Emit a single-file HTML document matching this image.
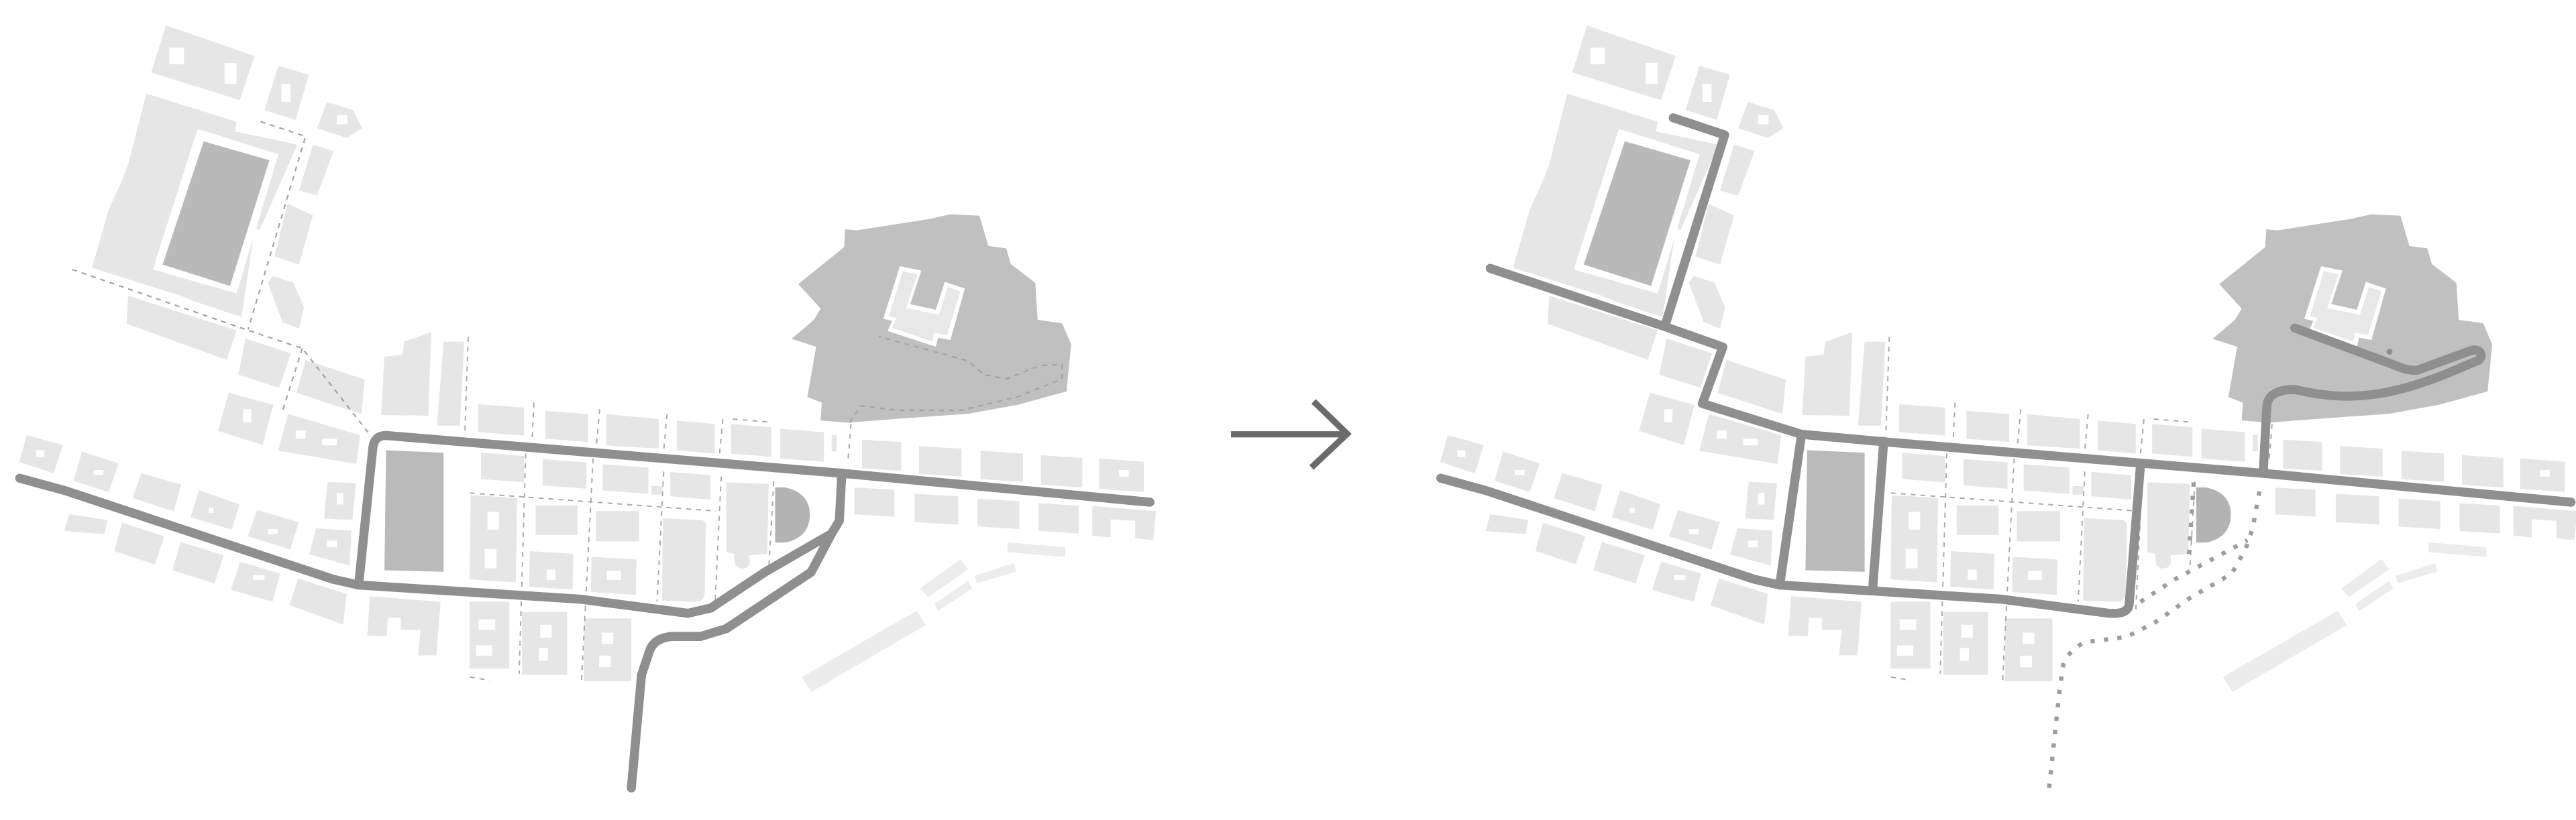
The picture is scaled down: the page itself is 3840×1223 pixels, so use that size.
<!DOCTYPE html>
<html><head><meta charset="utf-8"><style>
html,body{margin:0;padding:0;background:#fff;}
svg{display:block;}
</style></head><body>
<svg width="3840" height="1223" viewBox="0 0 1568 499" preserveAspectRatio="none" xmlns="http://www.w3.org/2000/svg">
<defs>
<g id="base">
  <!-- hill -->
  <polygon fill="#c0c0c0" points="514.5,139.5 521.3,140.2 564.8,133.4 578.5,130.4 596.2,131.3 601.6,149.7 612.5,151.1 615.2,160.6 630.2,172.2 631.6,194.6 646.5,196.7 652,209.6 649.2,238.2 619.3,246.4 589.3,251.8 551.2,254.5 515.9,257.2 499.5,255.9 500.2,245 491.4,241.6 496.8,211 481.8,206.2 495.4,194.6 499.5,187.8 485.9,172.9 513.8,150.4"/>
  <polygon fill="#fff" points="547.8,162 560.8,164.7 554,185.1 569.6,188.5 575.1,171.5 587.3,175.6 578.5,206.9 571,205.5 569.6,211 540.3,201.4 543.1,195.3 537.6,194"/>
  <polygon fill="#e8e8e8" points="549.5,165 558.5,167 551.5,187.5 571.5,191.5 577,174.5 584.5,177.2 576.5,204 568.5,202.5 567.5,207.8 543,199.5 545.5,193.5 541,192.5"/>
  <g fill="#e6e6e6">
  <!-- NW cluster -->
  <polygon points="101,15.5 155,34 146,61 92,44"/>
  <polygon points="169.5,40 188,45.5 180,73 161,67"/>
  <polygon points="199,62 215,67 220.5,78 211,84 193,78"/>
  <polygon points="89,57 144,74 143,80 181,88 158,140 155,139 147,193 117,183 110,180 56,163 66,128 75,108 78,100"/>
  <polygon points="78,180 144,201 138,219 77,197"/>
  <polygon points="190.5,88 203,92 193,119 182,116"/>
  <polygon points="175,124 190.5,131 182,161 167,156"/>
  <polygon points="166,168 178.6,172 185,187 182,200 172,196 163,172"/>
  <polygon points="149.5,206 177,215 170,236 145,228"/>
  <polygon points="186,219 222,231 220,252 180.5,239"/>
  <polygon points="139.2,239 166.4,246.4 159.9,270.8 132.7,262.2"/>
  <polygon points="175.3,251.9 219.2,264.8 216.9,282.3 169.3,274.3"/>
  <polygon points="234,217 245,216 246,208 262.5,202 260.7,253 232,252.5"/>
  <polygon points="270,208 282.5,208 280,259 266,259"/>
  <!-- far left -->
  <polygon points="16.3,264.8 38.2,270.8 32.7,288 11.7,281.1"/>
  <polygon points="49.9,274.8 72.2,282 66.2,299.5 44.7,292.6"/>
  <polygon points="86,288 110.4,294.9 105.7,311.2 80.8,303"/>
  <polygon points="121.2,298.3 145.8,306.9 141,322.4 116,314.7"/>
  <polygon points="156.4,310.4 181.9,317.7 176.7,334.4 150.9,326.3"/>
  <polygon points="199.4,293.2 216.6,294 214.5,316.4 197.3,315.5"/>
  <polygon points="192.5,321.5 214,322.9 212.8,344.2 188.2,337.3"/>
  <polygon points="42.1,312.9 65.3,316.4 63.6,325 39.2,323.2"/>
  <polygon points="74.3,318.1 100,326.3 94.2,343.5 69.6,335.3"/>
  <polygon points="110,329.8 136.1,337.9 130.6,355 104.9,347"/>
  <polygon points="146.1,341.8 170.5,349 165.9,366.2 140.6,359"/>
  <polygon points="181.4,352.1 211.1,361.4 208.9,380 176.2,368.3"/>
  <polygon points="225.2,362.8 268.2,366.2 265.6,398.9 254.4,398.9 256,383.4 244,383.4 244,376 236,376 235.5,387 223.5,386.9"/>
  <!-- row above top road -->
  <polygon points="291,246 319,248 319,265 291,263"/>
  <polygon points="332,250 358,252 358,269 332,267"/>
  <polygon points="369,252 401,255 401,273 369,271"/>
  <polygon points="412,256 435,258 435,276 412,274"/>
  <polygon points="445,258 469.5,260 469.5,278 445,276"/>
  <polygon points="475,261 501.5,263 501.5,281 475,279"/>
  <rect x="506.2" y="264.6" width="3.1" height="10"/>
  <!-- right of junction -->
  <polygon points="524.7,267.5 548.5,269 548.5,286.5 524.7,285"/>
  <polygon points="559.4,271.5 585.3,273 585.3,290 559.4,288.5"/>
  <polygon points="596.8,274.3 622.7,276 622.7,293.3 596.8,291.6"/>
  <polygon points="633.6,277 658.8,278.7 658.8,296.7 633.6,295"/>
  <polygon points="669,279 696.2,281 696.2,299.4 669,297.4"/>
  <polygon points="520,296.7 544.4,298 544.4,314.4 520,313"/>
  <polygon points="556.7,300.5 583.2,302 583.2,319.2 556.7,317.7"/>
  <polygon points="595,303.5 620.4,305 620.4,321.9 595,320.4"/>
  <polygon points="632.2,306.2 656.7,307.7 656.7,324.6 632.2,323.1"/>
  <polygon points="664.9,307.9 703.7,311 702,328.7 691,327.5 691,317 676,316 676,327 664.9,326"/>
  <!-- grid blocks -->
  <polygon points="292.8,275.5 319,277.5 319,293.5 292.8,291.5"/>
  <polygon points="330.3,279.4 357,281.4 357,297.4 330.3,295.4"/>
  <polygon points="366.8,282.5 394.7,284.5 394.7,300.5 366.8,298.5"/>
  <rect x="396.5" y="295.8" width="6.8" height="5.2"/>
  <polygon points="408,287.2 432.4,289.2 432.4,304 408,302"/>
  <polygon points="286.5,301.3 314.7,303 314,354.4 285.8,352.5"/>
  <rect x="326" y="307.5" width="25.5" height="18"/>
  <rect x="362.7" y="311" width="26.3" height="18.4"/>
  <polygon points="322.5,335.4 349,337 348.5,358.8 322,357"/>
  <polygon points="360,338.8 387.4,340.5 387,362 359.7,360.3"/>
  <path d="M403.5,315.4 L427,316.5 Q429.6,317 429.6,320 L429,361 Q428.5,366.2 423,366.2 L403,365.5 Z"/>
  <path d="M442.1,293.5 L467.9,294.5 L467,337 L456,338 Q458,346 451,346 Q446,345 447,337 L442.1,336 Z"/>
  <!-- below bottom road -->
  <rect x="285.8" y="366.2" width="24.2" height="40.6"/>
  <rect x="317.8" y="372.4" width="27.4" height="38.3"/>
  <rect x="355.4" y="376.3" width="28.9" height="38.3"/>
  <!-- faint strips -->
  <polygon fill="#ececec" points="613.2,330 648.5,333 648.5,339 613.2,336"/>
  <polygon fill="#ececec" points="560.1,358 584.6,340.3 589.3,346.4 564.8,363.4"/>
  <polygon fill="#ececec" points="593.1,350.5 617.2,342.7 618.6,347.8 594.5,355"/>
  <polygon fill="#ececec" points="568.7,367.5 589.3,353.5 591.8,358 571,371.8"/>
  <polygon fill="#ececec" points="488,412 558,371.6 563.5,380.4 494,421"/>
  </g>
  <!-- dark fields -->
  <polygon fill="#fff" points="120.3,78.4 169.5,93.9 144,178.6 93,164"/>
  <polygon fill="#b9b9b9" points="124,86 164,97.5 140,174 99,161"/>
  <polygon fill="#bababa" points="235,274 270,275.5 270,348 234,347"/>
  <path fill="#b3b3b3" d="M471.8,296.6 L478,296.6 Q492.9,300 492.9,313 Q492.9,327 478,330.2 L471.8,330.2 Z"/>
  <!-- holes -->
  <g fill="#fff">
  <rect x="103" y="29" width="9" height="10"/>
  <rect x="136.7" y="38.3" width="7.3" height="12.7"/>
  <rect x="171.3" y="51" width="5.5" height="11"/>
  <rect x="205" y="70" width="6.5" height="5.6"/>
  <rect x="148" y="249" width="5" height="8"/>
  <rect x="180" y="262" width="6" height="5"/>
  <rect x="196" y="267" width="9" height="4"/>
  <rect x="22" y="274" width="5" height="4"/>
  <rect x="57" y="286" width="6" height="3"/>
  <rect x="127" y="309" width="3" height="3"/>
  <rect x="163" y="322" width="6" height="3"/>
  <rect x="205" y="300" width="4" height="7"/>
  <rect x="199" y="329" width="6" height="4"/>
  <rect x="154" y="350" width="7" height="3"/>
  <rect x="296.7" y="311.5" width="7.1" height="10.9"/>
  <rect x="295" y="334" width="7.2" height="11.8"/>
  <rect x="332.7" y="346.6" width="5.5" height="6.3"/>
  <rect x="369.4" y="347.4" width="8.6" height="5.5"/>
  <rect x="291.3" y="377" width="10.1" height="6.3"/>
  <rect x="289.7" y="392.7" width="9.9" height="6.3"/>
  <rect x="328.8" y="380.2" width="7" height="7.8"/>
  <rect x="328" y="394.3" width="5.5" height="7.8"/>
  <rect x="366.3" y="385" width="7" height="7"/>
  <rect x="364.7" y="399" width="7.1" height="7"/>
  <rect x="681" y="286" width="6" height="4"/>
  </g>
  <!-- common dashed lines -->
  <g stroke="#a9a9a9" stroke-width="0.8" stroke-dasharray="3 3" fill="none">
  <path d="M286,300 L436,311"/>
  <path d="M320,276 L316,410"/>
  <path d="M361,279 L354,414"/>
  <path d="M404,287 L400,366"/>
  <path d="M439,290 L435,372"/>
  <path d="M471,293 L468,345"/>
  <path d="M285,205 L283,262"/>
  <path d="M325,245 L324,266"/>
  <path d="M365,249 L363,272"/>
  <path d="M406,252 L404,274"/>
  <path d="M440,255 L438,276"/>
  <path d="M518,258 L516,282"/>
  <path d="M446,255 L470,257"/>
  <path d="M286,412 L298,414"/>
  </g>
</g>
</defs>

<!-- left map -->
<use href="#base"/>
<g stroke="#a3a3a3" stroke-width="0.9" stroke-dasharray="3 3" fill="none">
  <path d="M44,164 L149.5,200.5 L184,212 L224,263"/>
  <path d="M158.6,74 L186,83 L151,200.5"/>
  <path d="M184,212 L172,250"/>
  <path d="M517.2,257.2 L524,247 C535,248 545,250 551.2,249.7 L585.2,249.7 L619.3,241.5 L646.5,230.6 L646.5,221.8 L632.9,222.5 L612.5,230.6 L598.9,227.9 L589.3,219.7 L564.8,212.9 L534.9,204.8"/>
</g>
<g stroke="#8f8f8f" stroke-width="5.5" fill="none" stroke-linejoin="round" stroke-linecap="round">
  <path d="M12,291 L39.5,298.5 L202.8,352.5 L218.3,356 L353,364.6 L418.7,373.2 L432.7,370 L465.5,348.2 L506.2,324.7"/>
  <path d="M218.3,356 L227,272 Q228,265 235,265 L285.8,269.2 L512.4,288 L700,305.6"/>
  <path d="M512.4,288 L510.9,316.9 L506.2,324.7 L493.7,348.2 L442,382.6 L426.5,387.3 L409.3,387.3 Q398,388 395.2,396.6 L390.5,410.7 L384.3,479.5"/>
</g>

<!-- arrow -->
<g stroke="#6b6b6b" stroke-width="3.8" fill="none">
  <path d="M749.3,264.3 L819,264.3"/>
  <path d="M799.6,244.3 L820,264 L798.3,284.5"/>
</g>

<!-- right map -->
<g transform="translate(865,0)">
<use href="#base"/>
<g stroke="#8f8f8f" stroke-width="5.5" fill="none" stroke-linejoin="round" stroke-linecap="round">
  <path d="M12,291 L39.5,298.5 L202.8,352.5 L218.3,356 L353,364.6 L418.7,373.2 Q430,374 431,368 L437.9,283"/>
  <path d="M42.1,163.3 L148.3,198.7 L183.7,211.2 L171.2,245.6 L231.6,264.3 L285.8,269.2 L512.4,288 L700,305.6"/>
  <path d="M153.5,71.7 L184.8,82.1 L148.3,198.7"/>
  <path d="M231.6,264.3 L218.3,356"/>
  <path d="M281.6,268.5 L275,357"/>
  <path d="M512.6,288 L514.8,247 Q516,237 531.8,237 C553,242 575,244 606.6,233.8 C625,228 636,222 642,220 C648,218 645,211 638.6,213.5 L606.6,225.2 C600,226 595,223 589.5,221 L531.8,199.6"/>
</g>
<circle cx="589.5" cy="214" r="1.8" fill="#8f8f8f"/>
<g stroke="#9d9d9d" stroke-width="2.6" stroke-dasharray="2.6 5.6" fill="none">
  <path d="M382.3,479.4 L388.7,419.6 L390.9,404.7 Q393,397 403.7,390.8 L429.3,387.6 L446.4,379 L467.8,364 L493.4,349.1 L501.9,334 L506.2,321.4 L510.5,297.9"/>
  <path d="M437.9,366.2 L459.2,352.3 L487,337.4 L503,328.8"/>
  <path d="M470.3,293.6 L467.3,339.5"/>
</g>
</g>
</svg>
</body></html>
